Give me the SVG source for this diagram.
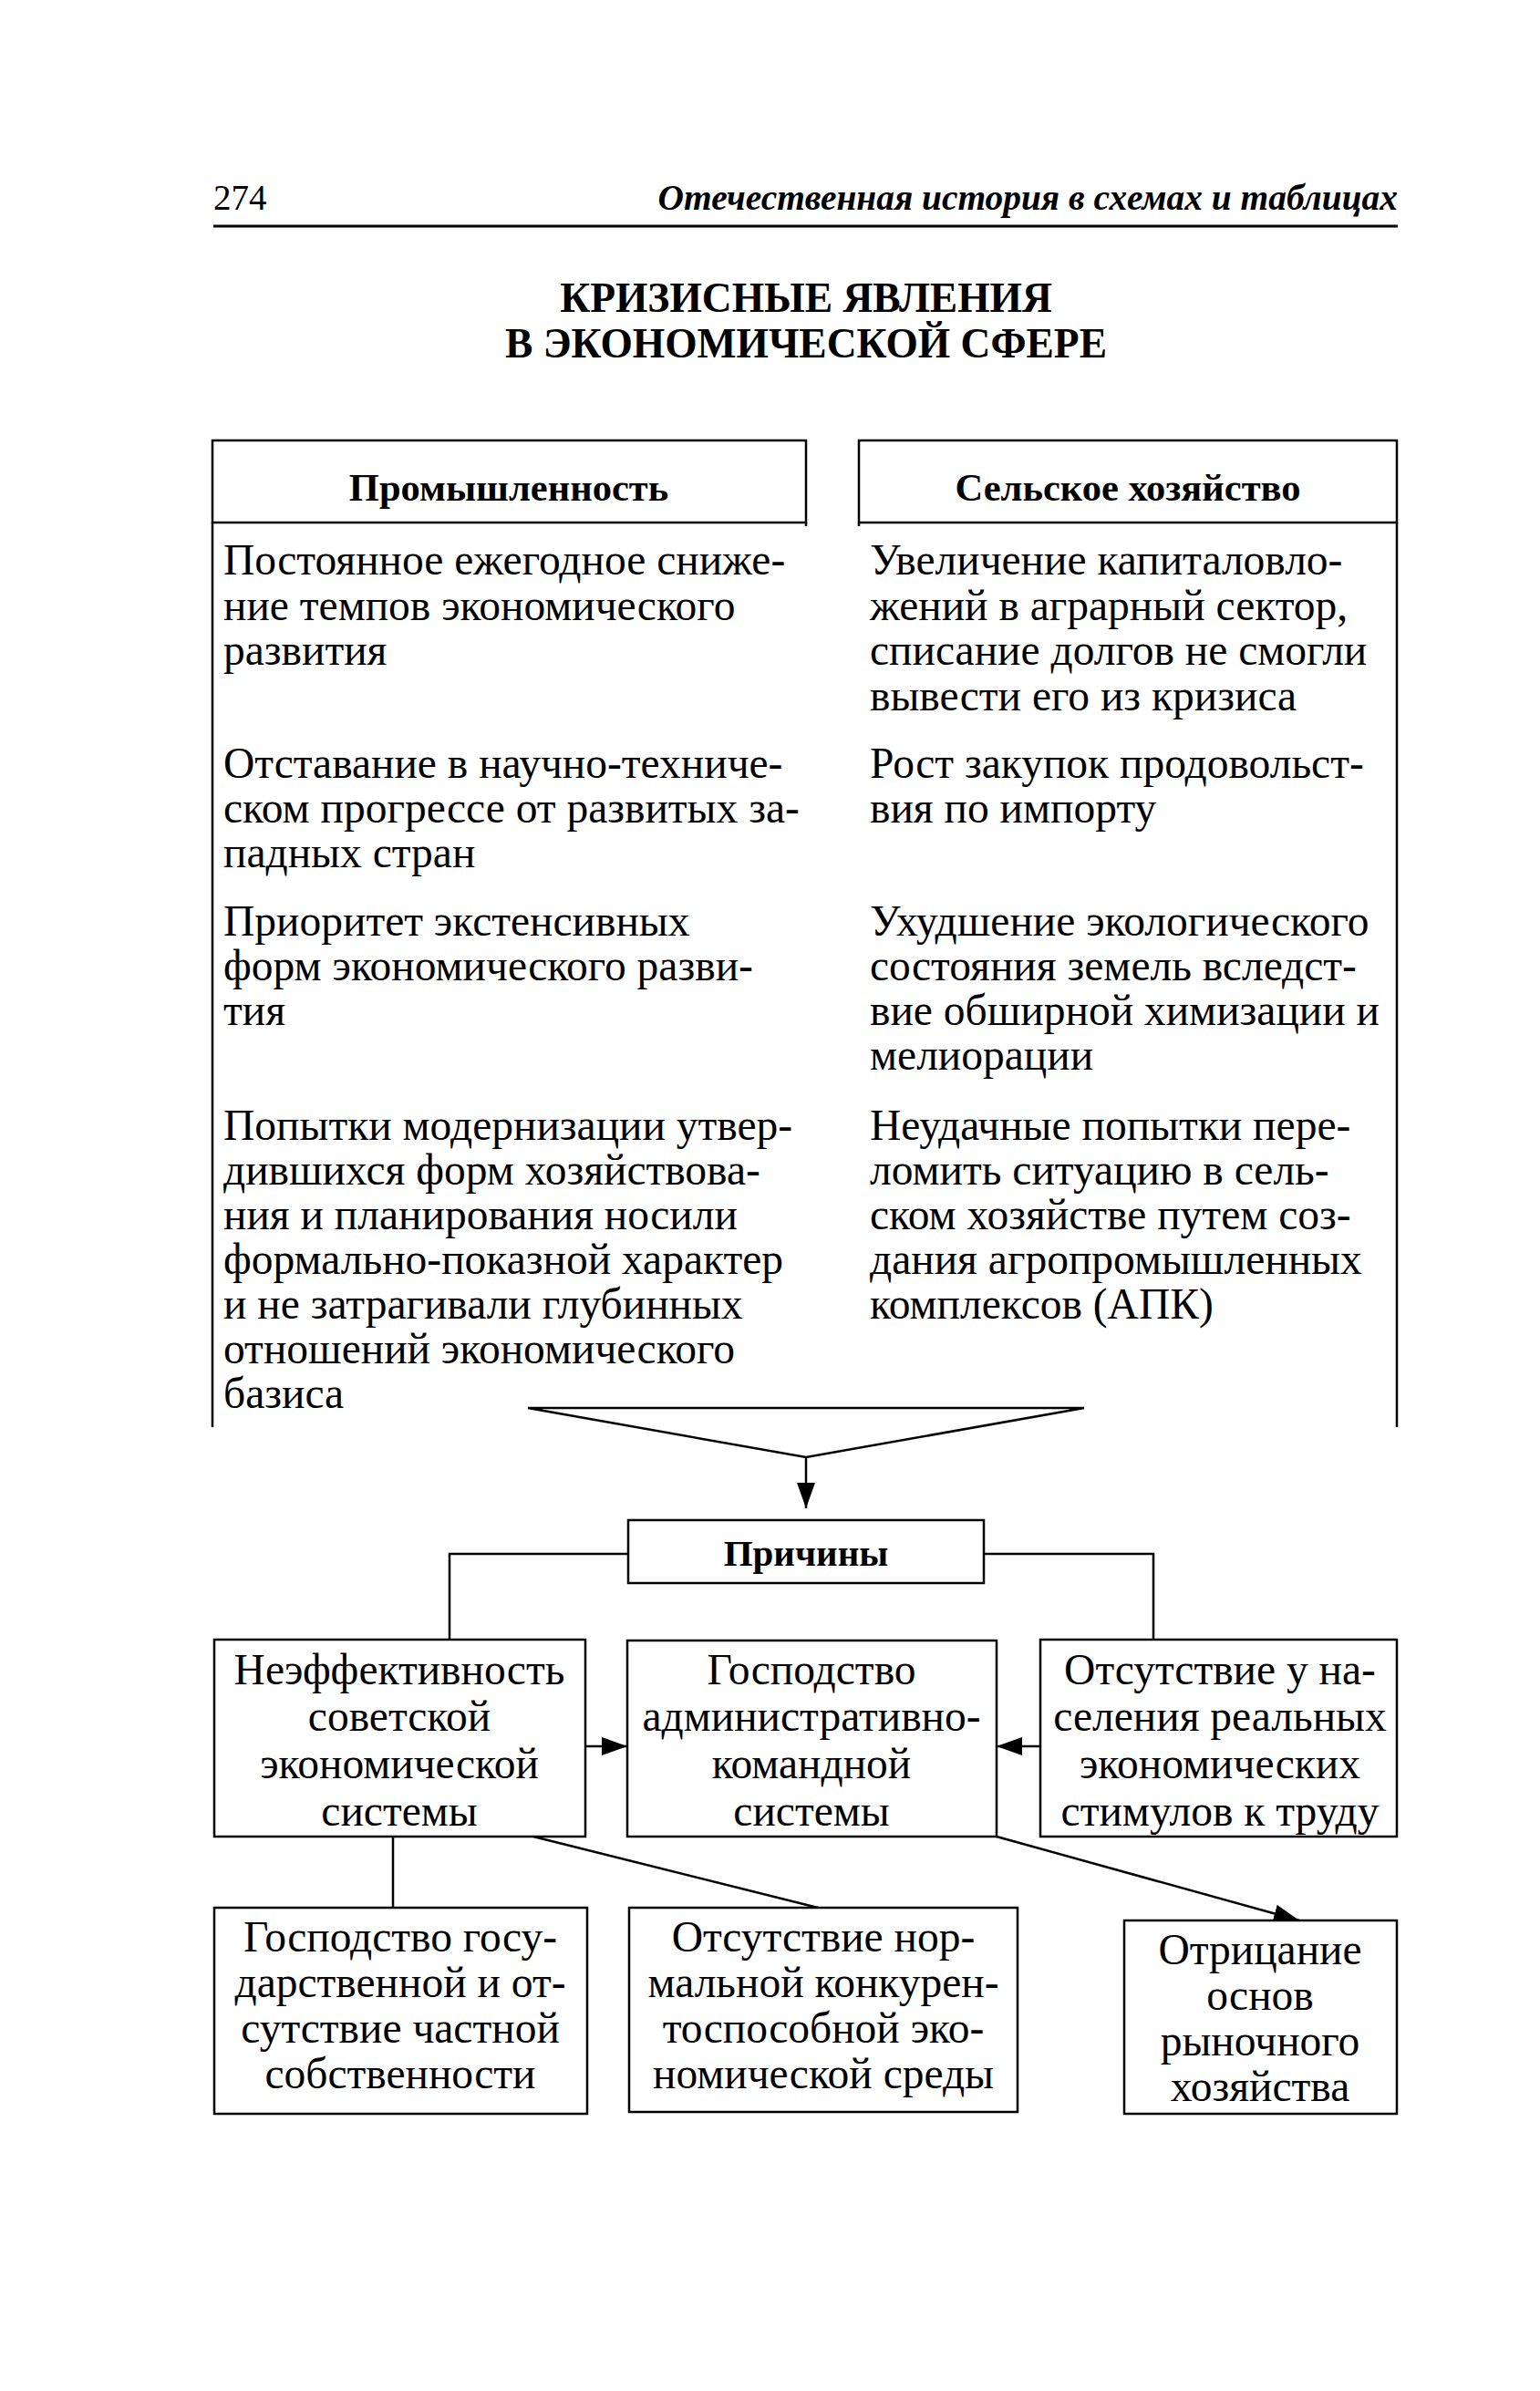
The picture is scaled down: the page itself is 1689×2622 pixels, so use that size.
<svg xmlns="http://www.w3.org/2000/svg" width="1689" height="2622" viewBox="0 0 1689 2622">
<defs>
<style>
.t{font-family:"Liberation Serif","Times New Roman",serif;font-size:47.5px;fill:#000}
.c{text-anchor:middle}
.b{font-weight:bold}
.h{font-size:42.5px}
.ln{fill:none;stroke:#000;stroke-width:2.5}
.bx{fill:#fff;stroke:#000;stroke-width:2.5}
</style>
<marker id="ah" markerWidth="28" markerHeight="20" refX="28" refY="10" orient="auto" markerUnits="userSpaceOnUse">
<path d="M0,0 L28,10 L0,20 Z" fill="#000"/>
</marker>
</defs>
<rect width="1689" height="2622" fill="#fff"/>

<g id="page-header">
<text class="t" x="234" y="230" style="font-size:39px">274</text>
<text class="t b" x="1533" y="230" style="font-size:39.4px;font-style:italic;text-anchor:end">Отечественная история в схемах и таблицах</text>
<line x1="234" y1="248" x2="1533" y2="248" stroke="#000" stroke-width="3"/>
</g>

<g id="title">
<text class="t b c" x="884" y="342" style="font-size:45.5px">КРИЗИСНЫЕ ЯВЛЕНИЯ</text>
<text class="t b c" x="884" y="392" style="font-size:45.5px">В ЭКОНОМИЧЕСКОЙ СФЕРЕ</text>
</g>

<g id="industry">
<rect class="bx" x="233" y="483" width="651" height="90"/>
<line class="ln" x1="884" y1="573" x2="884" y2="577"/>
<text class="t b c h" x="558" y="549">Промышленность</text>
<line class="ln" x1="233" y1="573" x2="233" y2="1565"/>
<text class="t" x="245" y="630">Постоянное ежегодное сниже-</text>
<text class="t" x="245" y="680">ние темпов экономического</text>
<text class="t" x="245" y="729">развития</text>
<text class="t" x="245" y="853">Отставание в научно-техниче-</text>
<text class="t" x="245" y="902">ском прогрессе от развитых за-</text>
<text class="t" x="245" y="951">падных стран</text>
<text class="t" x="245" y="1026">Приоритет экстенсивных</text>
<text class="t" x="245" y="1075">форм экономического разви-</text>
<text class="t" x="245" y="1124">тия</text>
<text class="t" x="245" y="1250">Попытки модернизации утвер-</text>
<text class="t" x="245" y="1299">дившихся форм хозяйствова-</text>
<text class="t" x="245" y="1348">ния и планирования носили</text>
<text class="t" x="245" y="1397">формально-показной характер</text>
<text class="t" x="245" y="1446">и не затрагивали глубинных</text>
<text class="t" x="245" y="1495">отношений экономического</text>
<text class="t" x="245" y="1544">базиса</text>
</g>

<g id="agriculture">
<rect class="bx" x="942" y="483" width="590" height="90"/>
<line class="ln" x1="942" y1="573" x2="942" y2="577"/>
<text class="t b c h" x="1237" y="549">Сельское хозяйство</text>
<line class="ln" x1="1532" y1="573" x2="1532" y2="1565"/>
<text class="t" x="954" y="630">Увеличение капиталовло-</text>
<text class="t" x="954" y="680">жений в аграрный сектор,</text>
<text class="t" x="954" y="729">списание долгов не смогли</text>
<text class="t" x="954" y="779">вывести его из кризиса</text>
<text class="t" x="954" y="853">Рост закупок продовольст-</text>
<text class="t" x="954" y="902">вия по импорту</text>
<text class="t" x="954" y="1026">Ухудшение экологического</text>
<text class="t" x="954" y="1075">состояния земель вследст-</text>
<text class="t" x="954" y="1124">вие обширной химизации и</text>
<text class="t" x="954" y="1173">мелиорации</text>
<text class="t" x="954" y="1250">Неудачные попытки пере-</text>
<text class="t" x="954" y="1299">ломить ситуацию в сель-</text>
<text class="t" x="954" y="1348">ском хозяйстве путем соз-</text>
<text class="t" x="954" y="1397">дания агропромышленных</text>
<text class="t" x="954" y="1446">комплексов (АПК)</text>
</g>

<g id="connectors">
<path class="ln" d="M579,1544 L1189,1544 L884,1598 Z"/>
<line class="ln" x1="884" y1="1598" x2="884" y2="1654" marker-end="url(#ah)"/>
<polyline class="ln" points="689,1704 493,1704 493,1798"/>
<polyline class="ln" points="1079,1704 1265,1704 1265,1798"/>
<line class="ln" x1="642" y1="1915" x2="688" y2="1915" marker-end="url(#ah)"/>
<line class="ln" x1="1141" y1="1915" x2="1093" y2="1915" marker-end="url(#ah)"/>
<line class="ln" x1="431" y1="2014" x2="431" y2="2092"/>
<line class="ln" x1="585" y1="2014" x2="897" y2="2092"/>
<line class="ln" x1="1093" y1="2014" x2="1425" y2="2106" marker-end="url(#ah)"/>
</g>

<g id="causes">
<rect class="bx" x="689" y="1667" width="390" height="69"/>
<text class="t b c" x="884" y="1717" style="font-size:41px">Причины</text>
</g>

<g id="box-inefficiency">
<rect class="bx" x="235" y="1798" width="407" height="216"/>
<text class="t c" x="438" y="1847">Неэффективность</text>
<text class="t c" x="438" y="1898">советской</text>
<text class="t c" x="438" y="1950">экономической</text>
<text class="t c" x="438" y="2002">системы</text>
</g>

<g id="box-admin">
<rect class="bx" x="688" y="1799" width="405" height="215"/>
<text class="t c" x="890" y="1847">Господство</text>
<text class="t c" x="890" y="1898">административно-</text>
<text class="t c" x="890" y="1950">командной</text>
<text class="t c" x="890" y="2002">системы</text>
</g>

<g id="box-incentives">
<rect class="bx" x="1141" y="1798" width="391" height="216"/>
<text class="t c" x="1338" y="1847">Отсутствие у на-</text>
<text class="t c" x="1338" y="1898">селения реальных</text>
<text class="t c" x="1338" y="1950">экономических</text>
<text class="t c" x="1338" y="2002">стимулов к труду</text>
</g>

<g id="box-state">
<rect class="bx" x="235" y="2092" width="409" height="226"/>
<text class="t c" x="439" y="2140">Господство госу-</text>
<text class="t c" x="439" y="2190">дарственной и от-</text>
<text class="t c" x="439" y="2240">сутствие частной</text>
<text class="t c" x="439" y="2290">собственности</text>
</g>

<g id="box-competition">
<rect class="bx" x="690" y="2092" width="426" height="224"/>
<text class="t c" x="903" y="2140">Отсутствие нор-</text>
<text class="t c" x="903" y="2190">мальной конкурен-</text>
<text class="t c" x="903" y="2240">тоспособной эко-</text>
<text class="t c" x="903" y="2290">номической среды</text>
</g>

<g id="box-market">
<rect class="bx" x="1233" y="2106" width="299" height="212"/>
<text class="t c" x="1382" y="2154">Отрицание</text>
<text class="t c" x="1382" y="2204">основ</text>
<text class="t c" x="1382" y="2254">рыночного</text>
<text class="t c" x="1382" y="2304">хозяйства</text>
</g>
</svg>
